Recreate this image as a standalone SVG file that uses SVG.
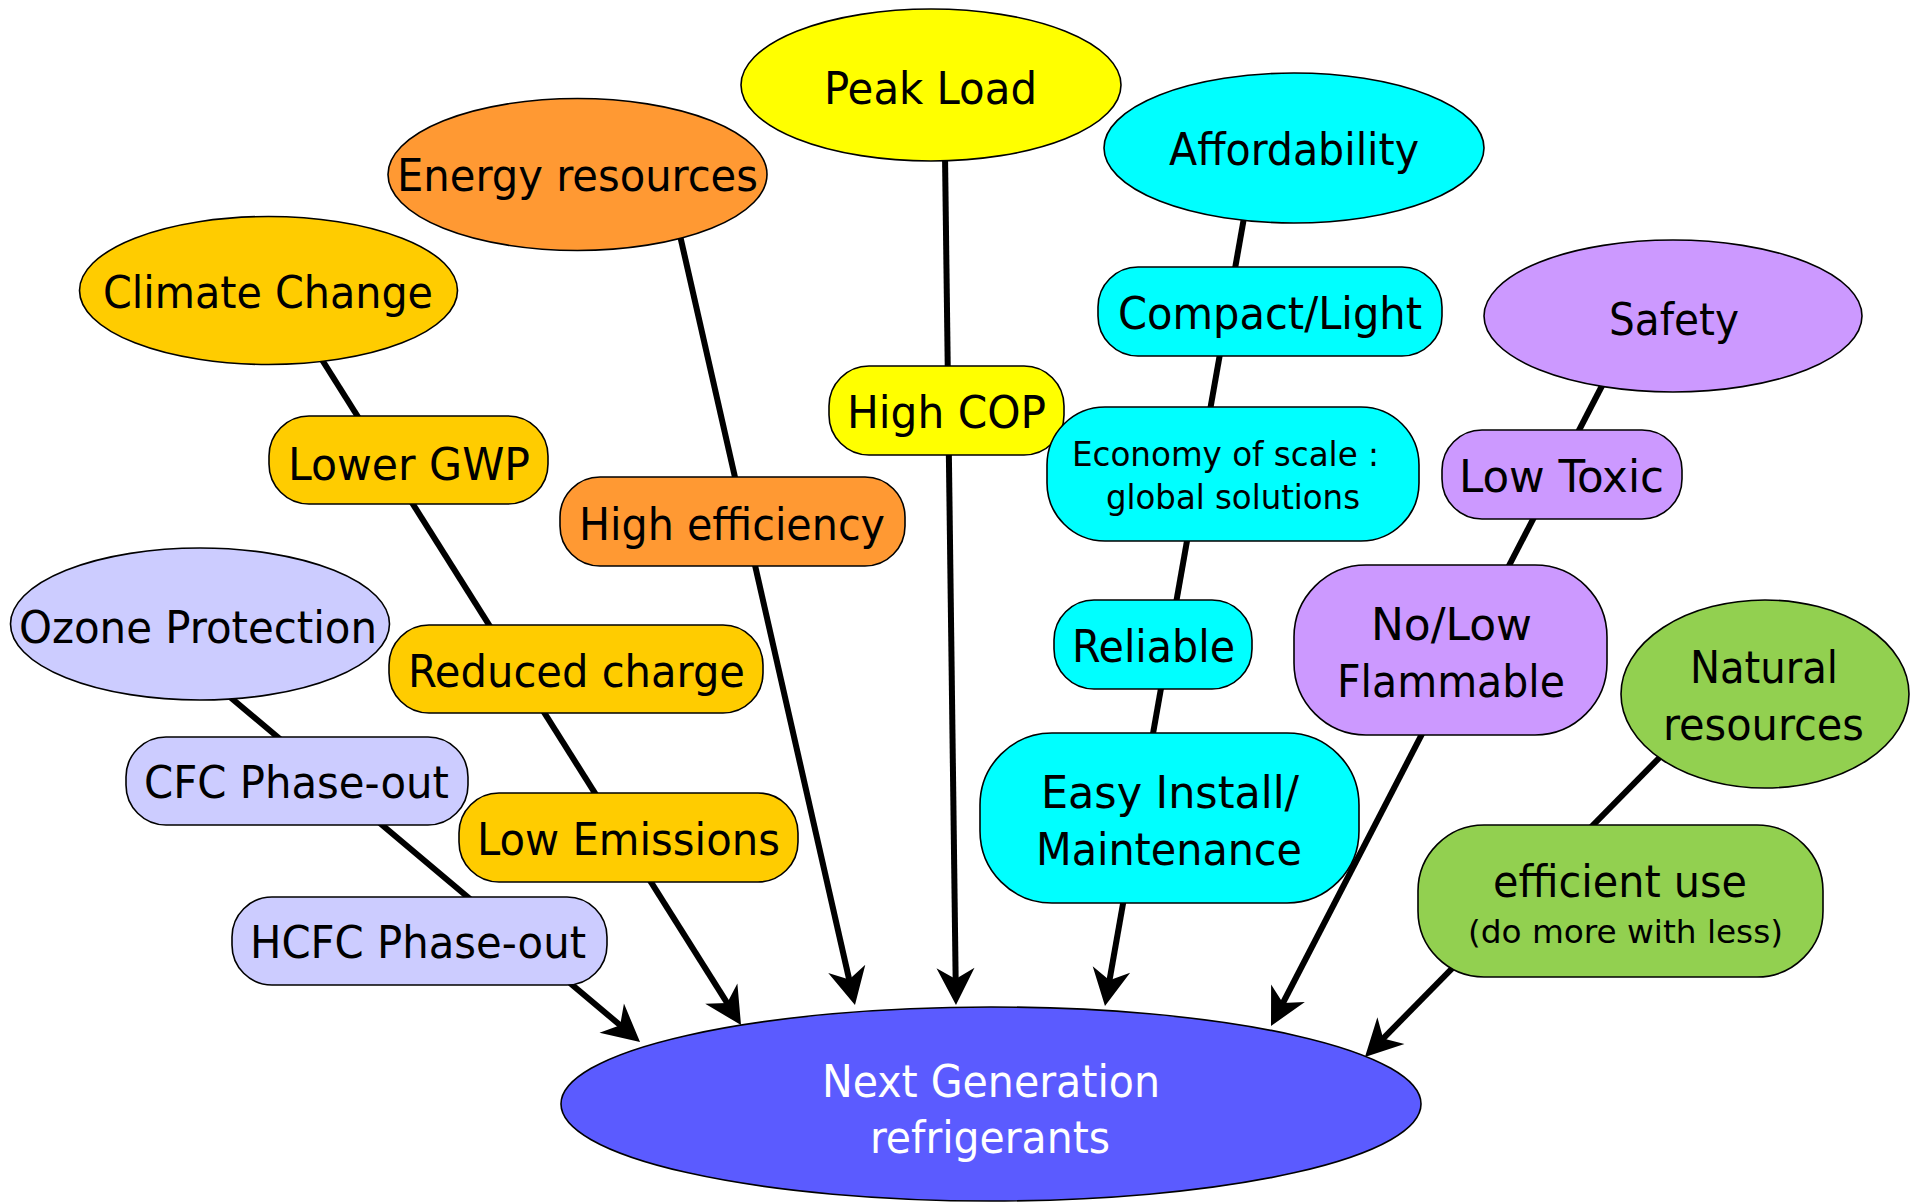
<svg xmlns="http://www.w3.org/2000/svg" width="1918" height="1202" viewBox="0 0 1918 1202">
<style>
.n{stroke:#000;stroke-width:1.6}
.t{font-family:"DejaVu Sans Condensed","DejaVu Sans","Liberation Sans",sans-serif;font-size:45px;fill:#000}
.s{font-size:33px}
.w{fill:#fff}
.c{fill:none;stroke:#000;stroke-width:6;marker-end:url(#ah)}
.gold{fill:#FFCC00}.orange{fill:#FF9933}.yellow{fill:#FFFF00}.cyan{fill:#00FFFF}.lilac{fill:#CC99FF}.peri{fill:#CCCCFF}.green{fill:#92D050}.blue{fill:#5B5BFF}
</style>
<defs>
<marker id="ah" markerUnits="userSpaceOnUse" viewBox="0 0 40 40" markerWidth="40" markerHeight="40" refX="18" refY="20" orient="auto">
<path d="M40,20 L3,1 L14,20 L3,39 Z" fill="#000"/>
</marker>
</defs>
<rect width="1918" height="1202" fill="#fff"/>
<g id="main">
<ellipse class="n blue" cx="991" cy="1104" rx="430" ry="97"/>
<text class="t w" x="822" y="1097" textLength="338" lengthAdjust="spacingAndGlyphs">Next Generation</text>
<text class="t w" x="870" y="1153" textLength="240" lengthAdjust="spacingAndGlyphs">refrigerants</text>
</g>
<g id="connectors">
<line class="c" x1="230" y1="697" x2="623.2" y2="1027.8"/>
<line class="c" x1="318.7" y1="354.5" x2="729.3" y2="1006.4"/>
<line class="c" x1="679" y1="231" x2="850.1" y2="983.5"/>
<line class="c" x1="945" y1="155" x2="955.7" y2="983"/>
<line class="c" x1="1245" y1="212" x2="1108.8" y2="984.3"/>
<line class="c" x1="1605" y1="380" x2="1281.1" y2="1006.5"/>
<line class="c" x1="1665" y1="752" x2="1380.4" y2="1041.3"/>
</g>
<g id="climate"><ellipse class="n gold" cx="268.5" cy="290.5" rx="189" ry="74"/><text class="t" x="103" y="308" textLength="330" lengthAdjust="spacingAndGlyphs">Climate Change</text></g>
<g id="energy"><ellipse class="n orange" cx="577.5" cy="174.5" rx="189.5" ry="76"/><text class="t" x="397" y="191" textLength="361" lengthAdjust="spacingAndGlyphs">Energy resources</text></g>
<g id="peak"><ellipse class="n yellow" cx="931" cy="85" rx="190" ry="76"/><text class="t" x="824" y="104" textLength="213" lengthAdjust="spacingAndGlyphs">Peak Load</text></g>
<g id="afford"><ellipse class="n cyan" cx="1294" cy="148" rx="190" ry="75"/><text class="t" x="1169" y="165" textLength="250" lengthAdjust="spacingAndGlyphs">Affordability</text></g>
<g id="safety"><ellipse class="n lilac" cx="1673" cy="316" rx="189" ry="76"/><text class="t" x="1609" y="335" textLength="130" lengthAdjust="spacingAndGlyphs">Safety</text></g>
<g id="ozone"><ellipse class="n peri" cx="200" cy="624" rx="189.5" ry="76"/><text class="t" x="19" y="643" textLength="358" lengthAdjust="spacingAndGlyphs">Ozone Protection</text></g>
<g id="natural"><ellipse class="n green" cx="1765" cy="694" rx="144" ry="94"/><text class="t" x="1690" y="683" textLength="148" lengthAdjust="spacingAndGlyphs">Natural</text><text class="t" x="1663" y="740" textLength="201" lengthAdjust="spacingAndGlyphs">resources</text></g>
<g id="lowergwp"><rect class="n gold" x="269" y="416" width="279" height="88" rx="40"/><text class="t" x="288" y="480" textLength="242" lengthAdjust="spacingAndGlyphs">Lower GWP</text></g>
<g id="reduced"><rect class="n gold" x="389" y="625" width="374" height="88" rx="40"/><text class="t" x="408" y="687" textLength="337" lengthAdjust="spacingAndGlyphs">Reduced charge</text></g>
<g id="lowemis"><rect class="n gold" x="459" y="793" width="339" height="89" rx="40"/><text class="t" x="477" y="855" textLength="303" lengthAdjust="spacingAndGlyphs">Low Emissions</text></g>
<g id="cfc"><rect class="n peri" x="126" y="737" width="342" height="88" rx="40"/><text class="t" x="144" y="798" textLength="305" lengthAdjust="spacingAndGlyphs">CFC Phase-out</text></g>
<g id="hcfc"><rect class="n peri" x="232" y="897" width="375" height="88" rx="40"/><text class="t" x="250" y="958" textLength="336" lengthAdjust="spacingAndGlyphs">HCFC Phase-out</text></g>
<g id="higheff"><rect class="n orange" x="560" y="477" width="345" height="89" rx="40"/><text class="t" x="579" y="540" textLength="306" lengthAdjust="spacingAndGlyphs">High efficiency</text></g>
<g id="highcop"><rect class="n yellow" x="829" y="366" width="235" height="89" rx="40"/><text class="t" x="847" y="428" textLength="199" lengthAdjust="spacingAndGlyphs">High COP</text></g>
<g id="compact"><rect class="n cyan" x="1098" y="267" width="344" height="89" rx="40"/><text class="t" x="1118" y="329" textLength="304" lengthAdjust="spacingAndGlyphs">Compact/Light</text></g>
<g id="economy"><rect class="n cyan" x="1047" y="407" width="372" height="134" rx="58"/><text class="t s" x="1072" y="466" textLength="307" lengthAdjust="spacingAndGlyphs">Economy of scale :</text><text class="t s" x="1106" y="509" textLength="254" lengthAdjust="spacingAndGlyphs">global solutions</text></g>
<g id="reliable"><rect class="n cyan" x="1054" y="600" width="198" height="89" rx="40"/><text class="t" x="1072" y="662" textLength="163" lengthAdjust="spacingAndGlyphs">Reliable</text></g>
<g id="easy"><rect class="n cyan" x="980" y="733" width="379" height="170" rx="72"/><text class="t" x="1041" y="808" textLength="258" lengthAdjust="spacingAndGlyphs">Easy Install/</text><text class="t" x="1036" y="865" textLength="266" lengthAdjust="spacingAndGlyphs">Maintenance</text></g>
<g id="lowtoxic"><rect class="n lilac" x="1442" y="430" width="240" height="89" rx="40"/><text class="t" x="1459" y="492" textLength="205" lengthAdjust="spacingAndGlyphs">Low Toxic</text></g>
<g id="nolow"><rect class="n lilac" x="1294" y="565" width="313" height="170" rx="72"/><text class="t" x="1371" y="640" textLength="161" lengthAdjust="spacingAndGlyphs">No/Low</text><text class="t" x="1337" y="697" textLength="228" lengthAdjust="spacingAndGlyphs">Flammable</text></g>
<g id="efficient"><rect class="n green" x="1418" y="825" width="405" height="152" rx="66"/><text class="t" x="1493" y="897" textLength="254" lengthAdjust="spacingAndGlyphs">efficient use</text><text class="t" style="font-size:32px" x="1468" y="943" textLength="315" lengthAdjust="spacingAndGlyphs">(do more with less)</text></g>
</svg>
